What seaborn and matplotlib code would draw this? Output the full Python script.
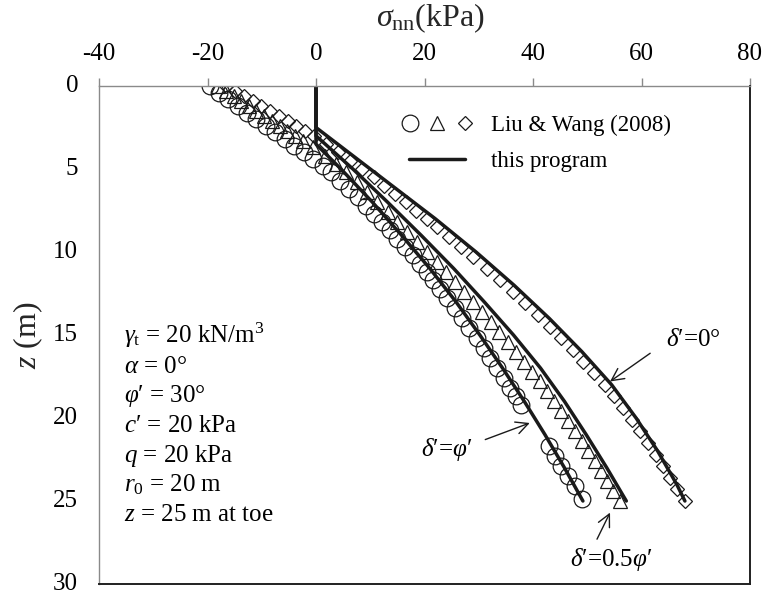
import numpy as np
import pandas as pd
import matplotlib
matplotlib.use("Agg")
import matplotlib.pyplot as plt
from matplotlib.lines import Line2D
from matplotlib.legend_handler import HandlerTuple, HandlerLine2D
import seaborn as sns

# ---------------- data (sigma_nn in kPa, z in m) ----------------
# Liu & Wang (2008): delta' = 0 (diamonds)
z_d0 = [0.0, 0.3, 0.6, 0.9, 1.2, 1.5, 1.8, 2.1, 2.4, 2.7,
        3.0, 3.5, 4.0, 4.5, 5.0, 5.5, 6.0, 6.5, 7.0, 7.5,
        8.0, 8.5, 9.1, 9.7, 10.3, 11.0, 11.7, 12.4, 13.1, 13.8,
        14.5, 15.2, 15.9, 16.6, 17.3, 18.0, 18.7, 19.4, 20.1, 20.8,
        21.5, 22.2, 22.9, 23.6, 24.3, 25.0]
s_d0 = [-16.5, -14.9, -13.3, -11.7, -10.1, -8.5, -6.8, -5.2, -3.6, -2.0,
        -0.4, 1.8, 4.0, 6.3, 8.5, 10.6, 12.5, 14.5, 16.5, 18.5,
        20.4, 22.3, 24.6, 26.8, 29.0, 31.5, 33.9, 36.3, 38.6, 40.9,
        43.1, 45.2, 47.3, 49.3, 51.3, 53.2, 55.0, 56.6, 58.3, 59.8,
        61.2, 62.6, 63.9, 65.2, 66.5, 68.0]

# Liu & Wang (2008): delta' = 0.5 phi' (triangles)
z_d05 = [0.0, 0.3, 0.6, 0.9, 1.2, 1.5, 1.8, 2.1, 2.4, 2.7,
         3.0, 3.3, 3.7, 4.2, 4.7, 5.2, 5.8, 6.4, 7.0, 7.6,
         8.2, 8.8, 9.4, 10.0, 10.6, 11.2, 11.8, 12.4, 13.0, 13.6,
         14.2, 14.8, 15.4, 16.0, 16.6, 17.2, 17.8, 18.4, 19.0, 19.6,
         20.2, 20.8, 21.4, 22.0, 22.6, 23.2, 23.8, 24.4, 25.0]
s_d05 = [-18.0, -16.6, -15.2, -13.8, -12.4, -11.0, -9.5, -8.1, -6.7, -5.3,
         -3.8, -2.4, -0.5, 1.6, 3.6, 5.5, 7.5, 9.4, 11.3, 13.2,
         15.0, 16.8, 18.7, 20.5, 22.3, 24.0, 25.7, 27.3, 29.0, 30.6,
         32.2, 33.8, 35.3, 36.8, 38.3, 39.8, 41.2, 42.6, 43.9, 45.2,
         46.5, 47.8, 49.0, 50.2, 51.4, 52.6, 53.7, 54.8, 56.0]

# Liu & Wang (2008): delta' = phi' (circles)
z_d1 = [0.0, 0.4, 0.8, 1.2, 1.6, 2.0, 2.4, 2.8, 3.2, 3.6,
        4.0, 4.4, 4.8, 5.2, 5.7, 6.2, 6.7, 7.2, 7.7, 8.2,
        8.7, 9.2, 9.7, 10.2, 10.7, 11.2, 11.7, 12.2, 12.8, 13.4,
        14.0, 14.6, 15.2, 15.8, 16.4, 17.0, 17.6, 18.2, 18.7, 19.2,
        21.7, 22.3, 22.9, 23.5, 24.1, 24.9]
s_d1 = [-19.6, -17.9, -16.2, -14.4, -12.7, -11.0, -9.3, -7.5, -5.8, -4.0,
        -2.2, -0.5, 1.2, 2.7, 4.5, 6.1, 7.7, 9.2, 10.7, 12.2,
        13.6, 15.0, 16.4, 17.8, 19.1, 20.4, 21.6, 22.8, 24.2, 25.6,
        26.9, 28.2, 29.6, 30.9, 32.1, 33.4, 34.6, 35.8, 36.8, 37.7,
        42.9, 44.0, 45.2, 46.5, 47.8, 49.0]

# this program
z_p0 = [0.0, 2.5, 4.0, 6.0, 8.0, 10.0, 12.0, 14.0, 16.0, 18.0, 20.0, 22.0, 24.0, 25.0]
s_p0 = [0.0, 0.0, 6.0, 14.0, 22.0, 29.5, 36.5, 43.0, 49.0, 54.5, 59.0, 63.0, 66.5, 68.0]
z_p05 = [0.0, 3.0, 5.0, 7.0, 9.0, 11.0, 13.0, 15.0, 17.0, 19.0, 21.0, 23.0, 25.0]
s_p05 = [0.0, 0.0, 6.8, 13.2, 19.4, 25.4, 31.0, 36.4, 41.4, 45.8, 49.8, 53.6, 57.2]
z_p1 = [0.0, 3.5, 5.0, 7.0, 9.0, 11.0, 13.0, 15.0, 17.0, 19.0, 21.0, 23.0, 25.0]
s_p1 = [0.0, 0.0, 4.6, 10.4, 15.8, 21.0, 25.8, 30.2, 34.4, 38.4, 42.2, 45.8, 49.2]

x_ticks = [-40, -20, 0, 20, 40, 60, 80]
y_ticks = [0, 5, 10, 15, 20, 25, 30]

param_lines = [r"$\gamma_{\rm t}$ = 20 kN/m$^3$",
               r"$\alpha$ = 0°",
               r"$\varphi$′ = 30°",
               r"$c$′ = 20 kPa",
               r"$q$ = 20 kPa",
               r"$r_{\rm 0}$ = 20 m",
               r"$z$ = 25 m at toe"]

# ---------------- style ----------------
sns.set_theme(style="white")
plt.rcParams["font.family"] = ["Liberation Serif", "DejaVu Serif"]
plt.rcParams["mathtext.fontset"] = "custom"
plt.rcParams["mathtext.rm"] = "Liberation Serif"
plt.rcParams["mathtext.it"] = "Liberation Serif:italic"
plt.rcParams["mathtext.bf"] = "Liberation Serif:bold"
plt.rcParams["text.color"] = "black"
plt.rcParams["axes.unicode_minus"] = False

W, H = 766, 594
fig = plt.figure(figsize=(W / 100, H / 100), dpi=100)
L, R, T, B = 99, 750, 86, 584
ax = fig.add_axes([L / W, (H - B) / H, (R - L) / W, (B - T) / H])

# markers
mk = dict(sort=False, estimator=None, linestyle="", color="k",
          markerfacecolor="none", markeredgecolor="k", markeredgewidth=0.9, ax=ax)
sns.lineplot(x=s_d1, y=z_d1, marker="o", markersize=12, **mk)
sns.lineplot(x=s_d05, y=z_d05, marker="^", markersize=10.2, **mk)
sns.lineplot(x=s_d0, y=z_d0, marker="D", markersize=7, **mk)

# program lines
for s, z in [(s_p0, z_p0), (s_p05, z_p05), (s_p1, z_p1)]:
    sns.lineplot(x=s, y=z, sort=False, estimator=None, color="k", lw=2.5, ax=ax)

ax.set_xlim(-40, 80)
ax.set_ylim(30, 0)
ax.set_xticks(x_ticks)
ax.set_yticks(y_ticks)
ax.xaxis.tick_top()
ax.xaxis.set_label_position("top")
ax.tick_params(axis="both", direction="out", length=6, width=1.0,
               color="#8a8a8a", labelsize=18, pad=9, labelcolor="black")
ax.tick_params(axis="y", right=False)
ax.tick_params(axis="x", bottom=False)
for lab in ax.get_yticklabels():
    lab.set_va("center")

for side in ["top", "left"]:
    ax.spines[side].set_color("#8a8a8a")
    ax.spines[side].set_linewidth(1.0)
for side in ["right", "bottom"]:
    ax.spines[side].set_color("#202020")
    ax.spines[side].set_linewidth(1.4)
ax.grid(False)

ax.set_xlabel(r"$\sigma_{\rm nn}$(kPa)", fontsize=23)
ax.xaxis.set_label_coords((430 - L) / (R - L), (B - 18) / (B - T))
ax.xaxis.label.set_va("center")
ax.set_ylabel(r"$z$ (m)", fontsize=23)
ax.yaxis.set_label_coords((28 - L) / (R - L), 0.5)
ax.yaxis.label.set_va("center")

# parameter text block
for i, t in enumerate(param_lines):
    yb = 343 + i * 29.7
    ax.text((124 - L) / (R - L), (B - yb) / (B - T), t, transform=ax.transAxes,
            fontsize=18, ha="left", va="baseline")

# curve labels with arrows
arrow = dict(arrowstyle="->", color="k", lw=1.0, mutation_scale=22,
             shrinkA=0, shrinkB=0)
ax.text(69.5, 15.3, r"$\delta$′=0°", fontsize=18, ha="center", va="center")
ax.annotate("", xy=(54.2, 17.8), xytext=(61.6, 16.1), arrowprops=arrow)
ax.text(24.0, 21.9, r"$\delta$′=$\varphi$′", fontsize=18, ha="center", va="center")
ax.annotate("", xy=(39.4, 20.3), xytext=(31.2, 21.3), arrowprops=arrow)
ax.text(54.4, 28.55, r"$\delta$′=0.5$\varphi$′", fontsize=18, ha="center", va="center")
ax.annotate("", xy=(54.2, 25.7), xytext=(51.8, 27.3), arrowprops=arrow)


# legend
class ShortLine(HandlerLine2D):
    def create_artists(self, legend, orig_handle, xdescent, ydescent,
                       width, height, fontsize, trans):
        d = 9.5
        return super().create_artists(legend, orig_handle, xdescent - d, ydescent,
                                      width - 2 * d, height, fontsize, trans)


mk_kw = dict(ls="", mfc="none", mec="k", mew=0.9)
h_c = Line2D([], [], marker="o", ms=12, **mk_kw)
h_t = Line2D([], [], marker="^", ms=10.2, **mk_kw)
h_d = Line2D([], [], marker="D", ms=7, **mk_kw)
h_l = Line2D([], [], color="k", lw=2.5)
leg = ax.legend([(h_c, h_t, h_d), h_l], ["Liu & Wang (2008)", "this program"],
                handler_map={tuple: HandlerTuple(ndivide=None, pad=0.0),
                             h_l: ShortLine()},
                loc="upper left", bbox_to_anchor=((396 - L) / (R - L), (B - 115) / (B - T)),
                frameon=False, fontsize=16.5, handlelength=3.6, handletextpad=0.55,
                labelspacing=0.65, borderpad=0, borderaxespad=0)

fig.savefig("out.png", dpi=100)
